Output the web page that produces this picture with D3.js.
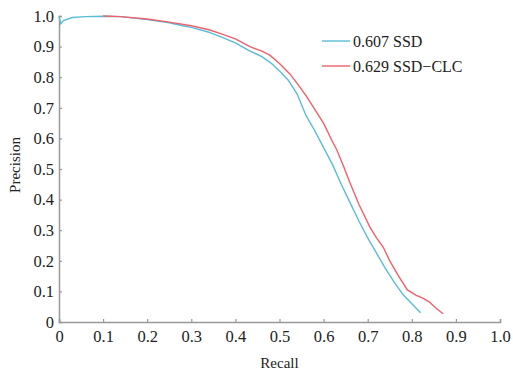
<!DOCTYPE html>
<html>
<head>
<meta charset="utf-8">
<script src="https://cdn.jsdelivr.net/npm/d3@7"></script>
<style>
	body { margin: 0; background: #fff; }
	text { font-family: "Liberation Serif", "DejaVu Serif", serif; fill: #222; }
</style>
</head>
<body>
<div id="chart"></div>
<script>
// precision-recall curves, values
var ssdRecall = [0, 0.004, 0.01, 0.03, 0.06, 0.1, 0.14, 0.2, 0.25, 0.28, 0.3, 0.34, 0.37, 0.4, 0.43, 0.46, 0.48, 0.5, 0.52, 0.54, 0.56, 0.58, 0.6, 0.62, 0.64, 0.66, 0.68, 0.7, 0.72, 0.74, 0.76, 0.77, 0.78, 0.8, 0.82];
var ssdPrecision = [1.0, 0.975, 0.985, 0.995, 0.998, 0.999, 0.998, 0.988, 0.978, 0.968, 0.963, 0.947, 0.93, 0.912, 0.888, 0.867, 0.847, 0.82, 0.79, 0.745, 0.675, 0.625, 0.57, 0.515, 0.45, 0.39, 0.33, 0.275, 0.225, 0.175, 0.13, 0.11, 0.09, 0.06, 0.03];

var clcRecall = [0.1, 0.14, 0.2, 0.25, 0.3, 0.34, 0.365, 0.4, 0.433, 0.46, 0.478, 0.5, 0.524, 0.545, 0.562, 0.58, 0.6, 0.62, 0.63, 0.645, 0.66, 0.68, 0.705, 0.72, 0.735, 0.75, 0.77, 0.79, 0.81, 0.825, 0.84, 0.855, 0.871];
var clcPrecision = [1.0, 0.998, 0.99, 0.98, 0.968, 0.955, 0.943, 0.925, 0.9, 0.885, 0.872, 0.845, 0.81, 0.77, 0.736, 0.695, 0.649, 0.59, 0.562, 0.51, 0.454, 0.385, 0.31, 0.275, 0.245, 0.2, 0.15, 0.105, 0.087, 0.078, 0.065, 0.045, 0.027];

var seriesNames = ["0.607 SSD", "0.629 SSD\u2212CLC"];
var seriesColors = ["#5bbcd9", "#f0606a"];
var xTicks = [0, 0.1, 0.2, 0.3, 0.4, 0.5, 0.6, 0.7, 0.8, 0.9, 1.0];
var yTicks = [0, 0.1, 0.2, 0.3, 0.4, 0.5, 0.6, 0.7, 0.8, 0.9, 1.0];

var width = 513, height = 372;
var margin = { left: 59, right: 13, top: 16, bottom: 50 };

var svg = d3.select("#chart").append("svg")
	.attr("width", width)
	.attr("height", height);

var x = d3.scaleLinear().domain([0, 1]).range([margin.left, width - margin.right]);
var y = d3.scaleLinear().domain([0, 1]).range([height - margin.bottom, margin.top]);

function fmt(d) { return d === 0 ? "0" : d3.format(".1f")(d); }

// x axis, ticks point into the plot
var xAxis = svg.append("g")
	.attr("transform", "translate(0," + y(0) + ")")
	.call(d3.axisBottom(x).tickValues(xTicks).tickFormat(fmt).tickSize(-3).tickPadding(8));
// y axis
var yAxis = svg.append("g")
	.attr("transform", "translate(" + x(0) + ",0)")
	.call(d3.axisLeft(y).tickValues(yTicks).tickFormat(fmt).tickSize(-3).tickPadding(5));

[xAxis, yAxis].forEach(function(ax) {
	ax.select(".domain").attr("stroke", "#999").attr("stroke-width", 1.5);
	ax.selectAll(".tick line").attr("stroke", "#999").attr("stroke-width", 1.2);
	ax.selectAll(".tick text")
		.attr("fill", "#222")
		.style("font-family", "'Liberation Serif', serif")
		.style("font-size", "16.5px");
});
xAxis.selectAll(".tick text").attr("dy", "0.71em");

var line = d3.line()
	.x(function(d) { return x(d[0]); })
	.y(function(d) { return y(d[1]); });

var ssdData = d3.zip(ssdRecall, ssdPrecision);
var clcData = d3.zip(clcRecall, clcPrecision);

svg.append("path")
	.datum(ssdData)
	.attr("d", line)
	.attr("fill", "none")
	.attr("stroke", seriesColors[0])
	.attr("stroke-width", 1.4);

svg.append("path")
	.datum(clcData)
	.attr("d", line)
	.attr("fill", "none")
	.attr("stroke", seriesColors[1])
	.attr("stroke-width", 1.4);

// legend
var legend = svg.append("g").attr("transform", "translate(322,41)");
seriesNames.forEach(function(name, i) {
	var g = legend.append("g").attr("transform", "translate(0," + (i * 25) + ")");
	g.append("line")
		.attr("x1", 0).attr("x2", 28)
		.attr("y1", 0).attr("y2", 0)
		.attr("stroke", seriesColors[i])
		.attr("stroke-width", 1.4);
	g.append("text")
		.attr("x", 31)
		.attr("y", 6)
		.style("font-size", "16px")
		.text(name);
});

// axis titles
svg.append("text")
	.attr("x", x(0.5))
	.attr("y", 368)
	.attr("text-anchor", "middle")
	.style("font-size", "15px")
	.text("Recall");

svg.append("text")
	.attr("transform", "translate(20,165) rotate(-90)")
	.attr("text-anchor", "middle")
	.style("font-size", "15px")
	.text("Precision");
</script>
</body>
</html>
